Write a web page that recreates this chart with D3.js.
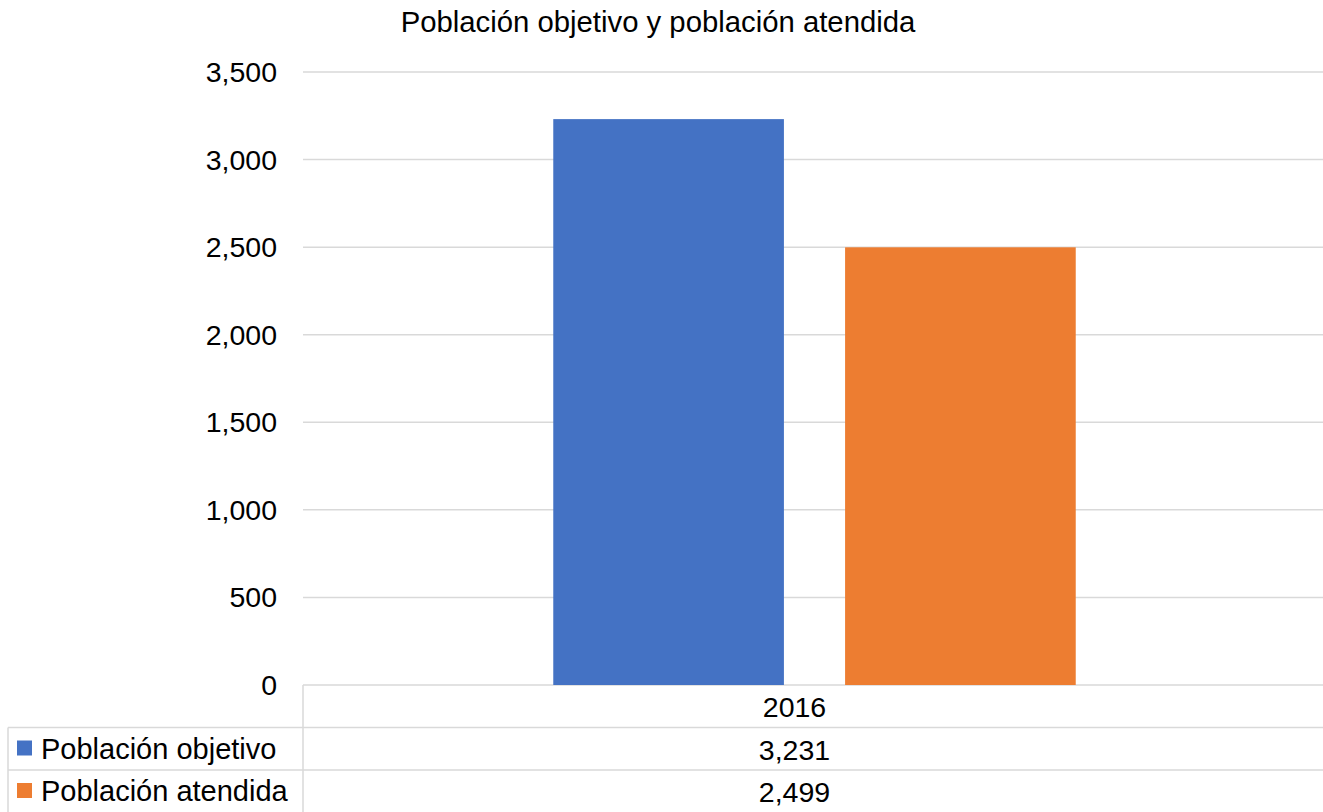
<!DOCTYPE html>
<html><head><meta charset="utf-8">
<script src="https://cdn.jsdelivr.net/npm/d3@7"></script>
<style>body{margin:0;background:#fff}svg{display:block}text{font-family:"Liberation Sans",Arial,sans-serif;fill:#000}</style>
</head><body>
<svg id="c" width="1323" height="812"></svg>
<script>
const title = "Población objetivo y población atendida";
const categories = ["2016"];
const seriesNames = ["Población objetivo", "Población atendida"];
const objetivo = [3231];
const atendida = [2499];
const yTicks = [0, 500, 1000, 1500, 2000, 2500, 3000, 3500];
const colors = ["#4472C4", "#ED7D31"];

const svg = d3.select("#c");
const W = 1323, H = 812;
const plotLeft = 303, plotRight = 1323, plotTop = 72, plotBottom = 685;
const fs = 28.5;

const y = d3.scaleLinear().domain([0, 3500]).range([plotBottom, plotTop]);
const x0 = d3.scaleBand().domain(categories).range([plotLeft, plotRight + 3]).paddingInner(0).paddingOuter(0.479);
const x1 = d3.scaleBand().domain(seriesNames).range([0, x0.bandwidth()]).paddingInner(0.2096).paddingOuter(0);
const fmt = d3.format(",");

// gridlines
svg.append("g").selectAll("line").data(yTicks).join("line")
  .attr("x1", plotLeft).attr("x2", plotRight)
  .attr("y1", d => y(d)).attr("y2", d => y(d))
  .attr("stroke", "#d9d9d9").attr("stroke-width", 1.5);

// y labels
svg.append("g").selectAll("text").data(yTicks).join("text")
  .attr("x", 277).attr("y", d => y(d) + 10)
  .attr("text-anchor", "end").attr("font-size", fs)
  .text(d => fmt(d));

// bars
const series = [objetivo, atendida];
categories.forEach((c, ci) => {
  series.forEach((s, si) => {
    svg.append("rect")
      .attr("x", x0(c) + x1(seriesNames[si]))
      .attr("y", y(s[ci]))
      .attr("width", x1.bandwidth())
      .attr("height", y(0) - y(s[ci]))
      .attr("fill", colors[si]);
  });
});

// title
svg.append("text").attr("x", 658).attr("y", 32).attr("text-anchor", "middle")
  .attr("font-size", 29.3).text(title);

// data table
const rowH = 42.5;
const tbl = svg.append("g").attr("stroke", "#d9d9d9").attr("stroke-width", 1.5);
[plotBottom + rowH, plotBottom + 2 * rowH].forEach(yy => {
  tbl.append("line").attr("x1", 8).attr("x2", plotRight).attr("y1", yy).attr("y2", yy);
});
tbl.append("line").attr("x1", plotLeft).attr("x2", plotLeft).attr("y1", plotBottom).attr("y2", H);
tbl.append("line").attr("x1", 8).attr("x2", 8).attr("y1", plotBottom + rowH).attr("y2", H);

categories.forEach((c, ci) => {
  const cx = x0(c) + x0.bandwidth() / 2 - 20;
  svg.append("text").attr("x", cx).attr("y", plotBottom + 32).attr("text-anchor", "middle")
    .attr("font-size", fs).text(c);
  series.forEach((s, si) => {
    svg.append("text").attr("x", cx).attr("y", plotBottom + rowH * (si + 1) + 32)
      .attr("text-anchor", "middle").attr("font-size", fs).text(fmt(s[ci]));
  });
});

seriesNames.forEach((n, si) => {
  const rowTop = plotBottom + rowH * (si + 1);
  svg.append("rect").attr("x", 17).attr("y", rowTop + 13).attr("width", 15).attr("height", 15)
    .attr("fill", colors[si]);
  svg.append("text").attr("x", 41).attr("y", rowTop + 31).attr("font-size", 29).text(n);
});
</script>
</body></html>
